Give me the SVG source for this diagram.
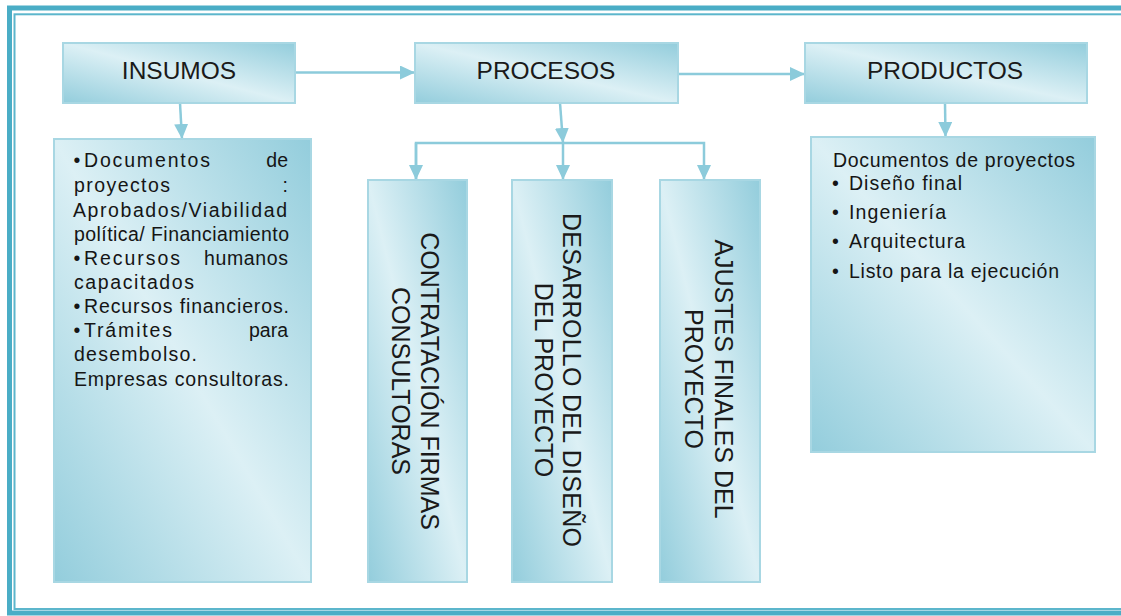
<svg xmlns="http://www.w3.org/2000/svg" width="1121" height="616" viewBox="0 0 1121 616">
<defs>
<linearGradient id="g" x1="0" y1="1" x2="1" y2="0">
<stop offset="0" stop-color="#93cddc"/>
<stop offset="0.5" stop-color="#dcf0f5"/>
<stop offset="1" stop-color="#93cddc"/>
</linearGradient>
<marker id="ah" markerUnits="userSpaceOnUse" markerWidth="16" markerHeight="14" refX="15" refY="7" orient="auto">
<path d="M0,0 L15,7 L0,14 z" fill="#8ccbdb"/>
</marker>
<style>
.box{fill:url(#g);stroke:#a8d7e3;stroke-width:2}
.hd{font-family:"Liberation Sans",Arial,sans-serif;font-size:24.5px;fill:#1a1a1a;text-anchor:middle}
.vt{font-family:"Liberation Sans",Arial,sans-serif;font-size:25px;fill:#1a1a1a;text-anchor:middle}
.bt{font-family:"Liberation Sans",Arial,sans-serif;font-size:19.5px;fill:#151515}
.cn{fill:none;stroke:#8ccbdb;stroke-width:2.5}
</style>
</defs>
<rect width="1121" height="616" fill="#ffffff"/>
<g id="frame" fill="none">
<rect x="9.5" y="8" width="1200" height="605" stroke="#4aadc6" stroke-width="5"/>
<rect x="14.5" y="14.3" width="1200" height="594.7" stroke="#5cb6cc" stroke-width="2"/>
</g>
<g id="connectors">
<line class="cn" x1="295" y1="72.5" x2="415" y2="72.5" marker-end="url(#ah)"/>
<line class="cn" x1="678" y1="74" x2="805" y2="74" marker-end="url(#ah)"/>
<line class="cn" x1="180" y1="103" x2="182" y2="139" marker-end="url(#ah)"/>
<line class="cn" x1="560" y1="103" x2="563" y2="143" marker-end="url(#ah)"/>
<line class="cn" x1="945" y1="103" x2="945.5" y2="137" marker-end="url(#ah)"/>
<path class="cn" d="M416,180 L416,143 L704,143 L704,180" marker-end="url(#ah)"/>
<line class="cn" x1="416" y1="143" x2="416" y2="180" marker-end="url(#ah)"/>
<line class="cn" x1="563" y1="143" x2="563" y2="180" marker-end="url(#ah)"/>
</g>
<g id="insumos">
<rect class="box" x="63" y="43" width="232" height="60"/>
<text class="hd" x="179" y="79">INSUMOS</text>
</g>
<g id="procesos">
<rect class="box" x="415" y="43" width="263" height="60"/>
<text class="hd" x="546" y="79">PROCESOS</text>
</g>
<g id="productos">
<rect class="box" x="805" y="43" width="282" height="60"/>
<text class="hd" x="945" y="79">PRODUCTOS</text>
</g>
<g id="insumos-detalle">
<rect class="box" x="54" y="139" width="257" height="443"/>
<g class="bt">
<text x="73.5" y="167">•</text><text x="84" y="167" textLength="126" lengthAdjust="spacing">Documentos</text><text x="288" y="167" text-anchor="end">de</text>
<text x="74" y="192" textLength="96" lengthAdjust="spacing">proyectos</text><text x="288" y="192" text-anchor="end">:</text>
<text x="73" y="217" textLength="214" lengthAdjust="spacing">Aprobados/Viabilidad</text>
<text x="74" y="241" textLength="215" lengthAdjust="spacing">política/ Financiamiento</text>
<text x="73.5" y="265">•</text><text x="84" y="265" textLength="96" lengthAdjust="spacing">Recursos</text><text x="204" y="265" textLength="84" lengthAdjust="spacing">humanos</text>
<text x="74" y="289" textLength="120" lengthAdjust="spacing">capacitados</text>
<text x="73.5" y="313">•</text><text x="84" y="313" textLength="205" lengthAdjust="spacing">Recursos financieros.</text>
<text x="73.5" y="337">•</text><text x="84" y="337" textLength="88" lengthAdjust="spacing">Trámites</text><text x="288" y="337" text-anchor="end">para</text>
<text x="74" y="361" textLength="123" lengthAdjust="spacing">desembolso.</text>
<text x="74" y="386" textLength="215" lengthAdjust="spacing">Empresas consultoras.</text>
</g>
</g>
<g id="contratacion">
<rect class="box" x="368" y="180" width="99" height="402"/>
<text class="vt" transform="translate(421,381) rotate(90)"><tspan x="0" y="0">CONTRATACIÓN FIRMAS</tspan><tspan x="0" y="29">CONSULTORAS</tspan></text>
</g>
<g id="desarrollo">
<rect class="box" x="512" y="180" width="100" height="402"/>
<text class="vt" transform="translate(563,380) rotate(90)"><tspan x="0" y="0" textLength="334" lengthAdjust="spacing">DESARROLLO DEL DISEÑO</tspan><tspan x="0" y="28">DEL PROYECTO</tspan></text>
</g>
<g id="ajustes">
<rect class="box" x="660" y="180" width="100" height="402"/>
<text class="vt" transform="translate(715,379) rotate(90)"><tspan x="0" y="0">AJUSTES FINALES DEL</tspan><tspan x="0" y="30">PROYECTO</tspan></text>
</g>
<g id="productos-detalle">
<rect class="box" x="811" y="137" width="284" height="315"/>
<g class="bt">
<text x="833" y="167" textLength="242" lengthAdjust="spacing">Documentos de proyectos</text>
<text x="832" y="190">•</text><text x="849" y="190" textLength="113" lengthAdjust="spacing">Diseño final</text>
<text x="832" y="219">•</text><text x="849" y="219" textLength="97" lengthAdjust="spacing">Ingeniería</text>
<text x="832" y="248">•</text><text x="849" y="248" textLength="116" lengthAdjust="spacing">Arquitectura</text>
<text x="832" y="278">•</text><text x="849" y="278" textLength="210" lengthAdjust="spacing">Listo para la ejecución</text>
</g>
</g>
</svg>
